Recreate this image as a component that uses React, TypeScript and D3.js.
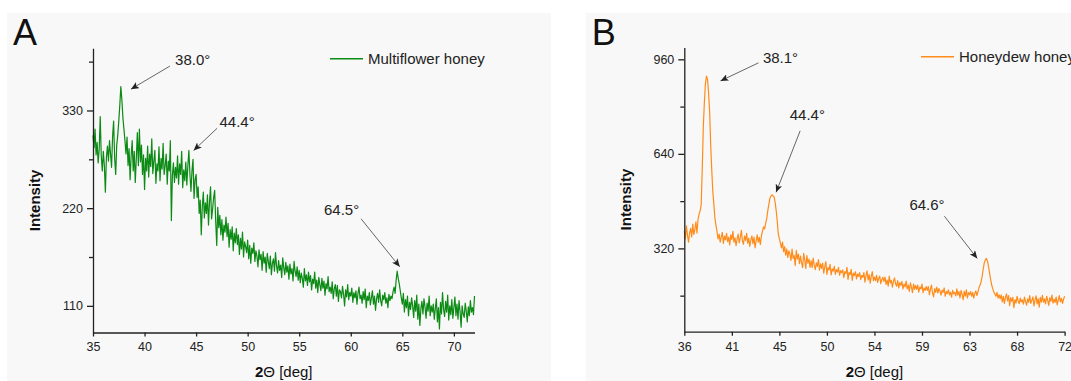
import React, { createRef, Component } from 'react';
import * as d3 from 'd3';

// XRD scans, one intensity every 0.1 deg of 2theta
const stepDeg = 0.1;
const multiflowerStart = 35;
const honeydewStart = 36;

// Multiflower honey, 35.0 .. 72.0 deg (one row per degree)
const multiflower = [
  302, 288, 309, 280, 294, 271, 286, 323, 279, 262,
  284, 268, 238, 277, 290, 273, 296, 281, 266, 301,
  318, 276, 258, 291, 302, 318, 336, 357, 342, 322,
  309, 296, 281, 300, 268, 287, 252, 279, 296, 262,
  284, 249, 276, 305, 268, 309, 272, 291, 258, 280,
  241, 276, 262, 290, 255, 281, 267, 298, 259, 273,
  285, 248, 270, 262, 289, 251, 276, 264, 293, 258,
  268, 281, 247, 273, 262, 296, 206, 257, 271, 249,
  266, 254, 279, 247, 270, 258, 284, 243, 263, 251,
  272, 246, 268, 285, 258, 239, 262, 275, 231, 252,
  258, 232, 244, 214, 229, 190, 222, 238, 209, 226,
  214, 235, 201, 227, 244, 208, 219, 232, 240, 205,
  178, 221, 198, 212, 190, 207, 184, 201, 193, 210,
  188, 203, 176, 196, 185, 199, 172, 192, 181, 197,
  179, 190, 168, 186, 174, 193, 165, 182, 177, 170,
  184, 163, 178, 158, 175, 169, 181, 160, 172, 166,
  154, 173, 162, 168, 150, 171, 158, 165, 148, 169,
  160, 152, 166, 145, 158, 163, 149, 170, 155, 147,
  161, 150, 156, 142, 164, 153, 145, 159, 148, 155,
  140, 157, 146, 152, 138, 160, 149, 143, 154, 139,
  150, 136, 147, 141, 131, 152, 138, 145, 133, 148,
  137, 144, 128, 140, 135, 148, 130, 139, 125, 142,
  134, 127, 141, 130, 138, 122, 135, 129, 143, 126,
  131, 124, 137, 118, 129, 134, 121, 133, 115, 128,
  126, 119, 132, 123, 110, 128, 120, 134, 117, 125,
  121, 130, 114, 125, 119, 127, 112, 124, 131, 118,
  122, 113, 126, 117, 129, 108, 121, 116, 125, 111,
  119, 127, 112, 121, 105, 118, 124, 114, 128, 116,
  110, 122, 117, 125, 113, 119, 108, 123, 116, 121,
  118, 126, 131, 124, 139, 149, 141, 135, 127, 119,
  112, 124, 103, 117, 108, 121, 99, 114, 106, 119,
  110, 97, 116, 104, 122, 95, 112, 88, 107, 115,
  101, 118, 109, 96, 113, 104, 121, 99, 110, 103,
  112, 95, 107, 118, 92, 108, 84, 114, 101, 125,
  106, 98, 115, 103, 122, 94, 110, 100, 117, 96,
  108, 120, 99, 112, 95, 116, 104, 86, 110, 101,
  97, 113, 104, 92, 109, 99, 116, 103, 108, 100,
  121
];

// Honeydew honey, 36.0 .. 72.0 deg
const honeydew = [
  378, 352, 396, 365, 341, 372, 388, 359, 402, 367,
  384, 410, 372, 418, 436, 447, 468, 590, 732, 815,
  878, 903, 892, 846, 781, 668, 584, 512, 468, 421,
  398, 376, 352, 368, 341, 359, 374, 337, 362, 349,
  371, 343, 358, 332, 366, 350, 378, 341, 356, 329,
  352, 368, 339, 357, 381, 346, 334, 362, 347, 371,
  338, 355, 327, 349, 362, 336, 358, 322, 345, 366,
  341, 357, 333, 362, 378, 393, 386, 405, 420, 447,
  468, 489, 497, 501, 498, 494, 476, 448, 412, 368,
  352, 338, 322, 341, 309, 326, 297, 318, 289, 312,
  301, 279, 318, 286, 296, 262, 313, 284, 301, 268,
  294, 271, 255, 303, 281, 252, 296, 270, 284, 256,
  279, 255, 287, 264, 248, 271, 259, 282, 246, 268,
  252, 270, 236, 258, 275, 232, 255, 247, 266, 230,
  251, 243, 259, 232, 248, 240, 256, 229, 245, 238,
  247, 221, 241, 235, 256, 215, 239, 231, 249, 212,
  236, 228, 241, 217, 233, 225, 238, 214, 229, 222,
  238, 206, 228, 244, 213, 231, 202, 226, 241, 211,
  223, 211, 229, 205, 218, 226, 201, 215, 222, 208,
  223, 198, 213, 192, 226, 203, 212, 189, 209, 220,
  200, 192, 211, 186, 204, 195, 208, 183, 199, 190,
  209, 183, 196, 174, 203, 189, 170, 199, 181, 195,
  181, 196, 172, 189, 183, 199, 170, 186, 178, 191,
  178, 191, 163, 182, 196, 168, 156, 184, 171, 189,
  169, 184, 176, 162, 179, 171, 186, 158, 174, 167,
  180, 163, 172, 155, 178, 166, 171, 159, 183, 162,
  174, 152, 178, 164, 146, 175, 158, 180, 152, 170,
  163, 174, 158, 171, 152, 167, 176, 160, 173, 188,
  196, 208, 226, 251, 272, 281, 286, 277, 258, 236,
  214, 196, 183, 172, 166, 158, 171, 152, 163, 149,
  163, 139, 158, 134, 154, 166, 142, 160, 126, 153,
  141, 154, 119, 147, 135, 158, 142, 133, 152, 139,
  146, 131, 155, 140, 128, 149, 137, 160, 134, 145,
  156, 125, 146, 159, 132, 150, 121, 154, 138, 161,
  138, 149, 132, 158, 144, 127, 153, 141, 162, 135,
  148, 137, 155, 129, 146, 160, 139, 151, 134, 147,
  158
];

// axis ticks
const multiTicksX = [35, 40, 45, 50, 55, 60, 65, 70];
const multiTicksY = [110, 220, 330];
const multiMinorY = [165, 275, 385];
const honeyTicksX = [36, 40.5, 45, 49.5, 54, 58.5, 63, 67.5, 72];
const honeyTickLabelsX = ['36', '41', '45', '50', '54', '59', '63', '68', '72'];
const honeyTicksY = [320, 640, 960];
const honeyMinorY = [160, 480, 800];

// peak labels: text position, arrow start, arrow tip (all in data units)
const multiPeaks = [
  { label: '38.0°', tx: 42.96, ty: 381, x1: 42.46, y1: 380, x2: 38.68, y2: 354 },
  { label: '44.4°', tx: 47.27, ty: 311, x1: 47.04, y1: 310, x2: 44.76, y2: 285 },
  { label: '64.5°', tx: 57.4, ty: 212, x1: 61.0, y1: 208, x2: 64.75, y2: 154 }
];
const honeyPeaks = [
  { label: '38.1°', tx: 43.44, ty: 946, x1: 43.02, y1: 948, x2: 39.43, y2: 887 },
  { label: '44.4°', tx: 45.98, ty: 754, x1: 46.97, y1: 718, x2: 44.69, y2: 510 },
  { label: '64.6°', tx: 57.31, ty: 450, x1: 60.62, y1: 429, x2: 63.73, y2: 286 }
];

const FONT = "Arial, 'Liberation Sans', Helvetica, sans-serif";

class XrdChart extends Component<any, any> {
  ref: any;
  constructor(props) {
    super(props);
    this.ref = createRef();
  }
  componentDidMount() {
    this.draw();
  }
  drawPanel(svg, p) {
    var g = svg.append('g');

    // panel background
    g.append('rect')
      .attr('x', p.bgX).attr('y', 13)
      .attr('width', p.bgW).attr('height', 381 - 13)
      .attr('fill', '#f8f8f8');

    g.append('text')
      .attr('x', p.bgX + 6).attr('y', 45)
      .attr('font-family', FONT).attr('font-size', 36)
      .attr('fill', '#111')
      .text(p.letter);

    var x = d3.scaleLinear().domain(p.xDomain).range([p.left, p.right]);
    var y = d3.scaleLinear().domain(p.yDomain).range([p.bottom, p.top]);

    var line = d3.line<number>()
      .x((d, i) => x(p.start + i * stepDeg))
      .y(d => y(d));

    g.append('path')
      .datum(p.values)
      .attr('fill', 'none')
      .attr('stroke', p.color)
      .attr('stroke-width', 1.2)
      .attr('stroke-linejoin', 'round')
      .attr('d', line);

    // x axis
    var xAxis = g.append('g')
      .attr('transform', 'translate(0,' + p.bottom + ')')
      .call(d3.axisBottom(x)
        .tickValues(p.ticksX)
        .tickFormat((d, i) => p.tickLabelsX ? p.tickLabelsX[i] : String(d))
        .tickSize(4).tickSizeOuter(0).tickPadding(6));
    // y axis
    var yAxis = g.append('g')
      .attr('transform', 'translate(' + p.left + ',0)')
      .call(d3.axisLeft(y)
        .tickValues(p.ticksY)
        .tickSize(6).tickSizeOuter(0).tickPadding(4));
    var yMinor = g.append('g')
      .attr('transform', 'translate(' + p.left + ',0)')
      .call(d3.axisLeft(y)
        .tickValues(p.minorY)
        .tickFormat(() => '')
        .tickSize(4).tickSizeOuter(0));
    yMinor.select('.domain').remove();

    [xAxis, yAxis, yMinor].forEach(a => {
      a.selectAll('path, line').attr('stroke', '#222').attr('stroke-width', 1.3);
      a.selectAll('text')
        .attr('font-family', FONT).attr('font-size', 12.5).attr('fill', '#222');
    });

    // axis titles
    var xt = g.append('text')
      .attr('x', (p.left + p.right) / 2).attr('y', 377)
      .attr('text-anchor', 'middle')
      .attr('font-family', FONT).attr('font-size', 15).attr('fill', '#111');
    xt.append('tspan').attr('font-weight', 'bold').text('2');
    xt.append('tspan').text('Θ [deg]');

    g.append('text')
      .attr('transform', 'translate(' + (p.left - 53) + ',' + ((p.top + p.bottom) / 2 + 10) + ') rotate(-90)')
      .attr('text-anchor', 'middle')
      .attr('font-family', FONT).attr('font-size', 15).attr('font-weight', 'bold')
      .attr('fill', '#111')
      .text('Intensity');

    // legend
    g.append('line')
      .attr('x1', p.legendX).attr('x2', p.legendX + 33)
      .attr('y1', p.legendY).attr('y2', p.legendY)
      .attr('stroke', p.color).attr('stroke-width', 1.4);
    g.append('text')
      .attr('x', p.legendX + 38).attr('y', p.legendY + 5.5)
      .attr('font-family', FONT).attr('font-size', 15).attr('fill', '#222')
      .text(p.name);

    // peak annotations
    var ann = g.append('g').selectAll('g').data(p.peaks).enter().append('g');
    ann.append('text')
      .attr('x', d => x(d.tx)).attr('y', d => y(d.ty))
      .attr('font-family', FONT).attr('font-size', 15).attr('fill', '#222')
      .text(d => d.label);
    ann.append('line')
      .attr('x1', d => x(d.x1)).attr('y1', d => y(d.y1))
      .attr('x2', d => x(d.x2)).attr('y2', d => y(d.y2))
      .attr('stroke', '#555').attr('stroke-width', 0.9)
      .attr('marker-end', 'url(#arrowhead)');
  }
  draw() {
    var svg = d3.select(this.ref.current);
    svg.selectAll('*').remove();

    svg.append('defs').append('marker')
      .attr('id', 'arrowhead')
      .attr('markerUnits', 'userSpaceOnUse')
      .attr('markerWidth', 9).attr('markerHeight', 7)
      .attr('refX', 8).attr('refY', 3.5)
      .attr('orient', 'auto')
      .append('path')
      .attr('d', 'M0,0 L8,3.5 L0,7 L2,3.5 Z')
      .attr('fill', '#222');

    svg.append('rect').attr('width', 1071).attr('height', 381).attr('fill', '#fff');

    this.drawPanel(svg, {
      letter: 'A', name: 'Multiflower honey', color: '#0b8a14',
      bgX: 7, bgW: 544,
      left: 93, right: 474.5, top: 48.3, bottom: 332.5,
      xDomain: [35, 72], yDomain: [80, 400],
      start: multiflowerStart, values: multiflower,
      ticksX: multiTicksX, ticksY: multiTicksY, minorY: multiMinorY,
      legendX: 330, legendY: 58.7, peaks: multiPeaks
    });
    this.drawPanel(svg, {
      letter: 'B', name: 'Honeydew honey', color: '#ff8c1a',
      bgX: 585.7, bgW: 1071 - 585.7,
      left: 684.3, right: 1064.6, top: 47.5, bottom: 331.7,
      xDomain: [36, 72], yDomain: [38, 1000],
      start: honeydewStart, values: honeydew,
      ticksX: honeyTicksX, tickLabelsX: honeyTickLabelsX,
      ticksY: honeyTicksY, minorY: honeyMinorY,
      legendX: 921, legendY: 56.7, peaks: honeyPeaks
    });
  }
  render() {
    return <svg ref={this.ref} width={1071} height={381}
      style={{ position: 'absolute', left: 0, top: 0, display: 'block' }} />;
  }
}

export default function App() {
  return <XrdChart />;
}
